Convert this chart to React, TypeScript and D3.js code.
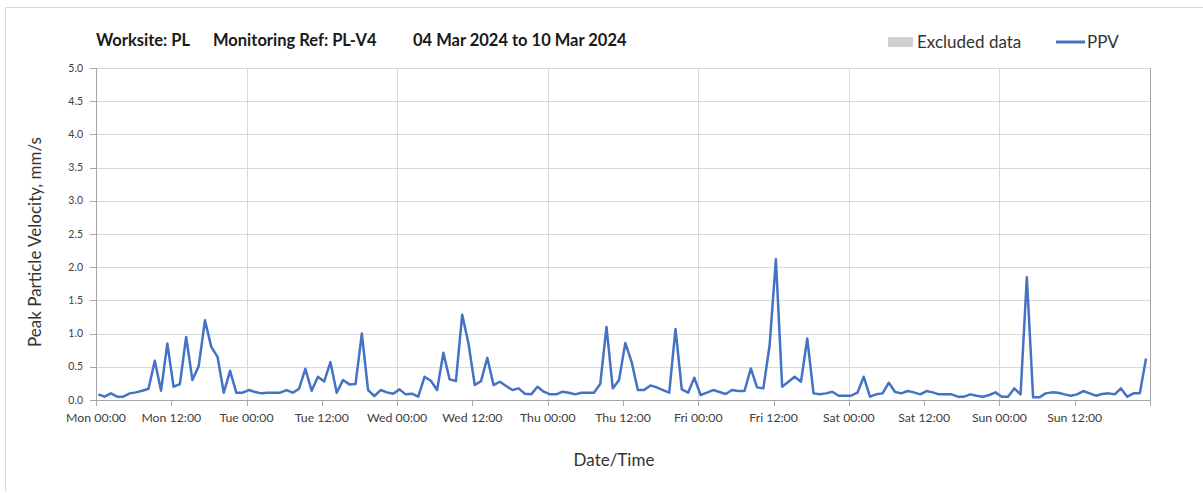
import React from "react";
import * as d3 from "d3";

// Hourly PPV readings (mm/s), Mon 00:00 .. Sun 23:00 (+ small offset)
const ppvValues: number[] = [
  // Mon
  0.085, 0.05, 0.1, 0.05, 0.05, 0.1, 0.115, 0.14, 0.17, 0.59, 0.14, 0.85,
  0.2, 0.24, 0.95, 0.3, 0.51, 1.2, 0.8, 0.65, 0.11, 0.44, 0.11, 0.11,
  // Tue
  0.15, 0.12, 0.1, 0.11, 0.11, 0.11, 0.15, 0.11, 0.17, 0.47, 0.14, 0.35,
  0.28, 0.57, 0.11, 0.3, 0.235, 0.24, 1.0, 0.15, 0.06, 0.15, 0.115, 0.095,
  // Wed
  0.16, 0.085, 0.095, 0.05, 0.35, 0.29, 0.15, 0.71, 0.31, 0.285, 1.285, 0.85,
  0.225, 0.285, 0.635, 0.225, 0.275, 0.21, 0.15, 0.175, 0.095, 0.085, 0.2, 0.125,
  // Thu
  0.085, 0.085, 0.125, 0.11, 0.085, 0.11, 0.11, 0.11, 0.24, 1.1, 0.175, 0.3,
  0.86, 0.575, 0.15, 0.15, 0.22, 0.19, 0.15, 0.11, 1.07, 0.16, 0.11, 0.335,
  // Fri
  0.075, 0.11, 0.15, 0.12, 0.09, 0.15, 0.135, 0.135, 0.475, 0.19, 0.175, 0.825,
  2.12, 0.2, 0.275, 0.35, 0.275, 0.925, 0.1, 0.085, 0.1, 0.125, 0.065, 0.065,
  // Sat
  0.065, 0.11, 0.35, 0.05, 0.085, 0.1, 0.26, 0.12, 0.1, 0.135, 0.115, 0.085,
  0.135, 0.115, 0.085, 0.085, 0.085, 0.05, 0.05, 0.085, 0.065, 0.05, 0.075, 0.115,
  // Sun
  0.05, 0.05, 0.175, 0.085, 1.85, 0.04, 0.04, 0.1, 0.115, 0.11, 0.085, 0.065,
  0.085, 0.135, 0.1, 0.065, 0.09, 0.1, 0.085, 0.175, 0.05, 0.1, 0.1, 0.625,
];
const sampleOffsetHours = 0.37;

const dayNames: string[] = ["Mon", "Tue", "Wed", "Thu", "Fri", "Sat", "Sun"];
const tickHours: number[] = d3.range(0, 168, 12);
const tickLabels: string[] = tickHours.map(
  (h) => `${dayNames[Math.floor(h / 24)]} ${h % 24 === 0 ? "00:00" : "12:00"}`
);
const dayGridHours: number[] = [24, 48, 72, 96, 120, 144, 168];
const yTicks: number[] = [0, 0.5, 1, 1.5, 2, 2.5, 3, 3.5, 4, 4.5, 5];
const titleParts: string[] = ["Worksite: PL", "Monitoring Ref: PL-V4", "04 Mar 2024 to 10 Mar 2024"];

const W = 1203;
const H = 493;
const M = { left: 96, right: 1150, top: 68, bottom: 400 };
const FONT = "Lato, 'Open Sans', 'Noto Sans', sans-serif";
const titleX = [96, 213, 413];

export default function App() {
  const x = d3.scaleLinear().domain([0, 168]).range([M.left, M.right]);
  const y = d3.scaleLinear().domain([0, 5]).range([M.bottom, M.top]);
  const line = d3
    .line<number>()
    .x((_, i) => x(i + sampleOffsetHours))
    .y((d) => y(d));

  return (
    <svg
      width={W}
      height={H}
      style={{ position: "absolute", left: 0, top: 0, background: "#fff" }}
    >
      {/* chart frame */}
      <line x1={5.5} y1={7.5} x2={W} y2={7.5} stroke="#d9d9d9" />
      <line x1={5.5} y1={7.5} x2={5.5} y2={492} stroke="#d9d9d9" />

      {/* title */}
      <text y={46} fontFamily={FONT} fontWeight="bold" fontSize={16.5} fill="#1a1a1a">
        {titleParts.map((t, i) => (
          <tspan key={t} x={titleX[i]}>
            {t}
          </tspan>
        ))}
      </text>

      {/* legend */}
      <rect x={888} y={37} width={25} height={10} fill="#d0d0d0" />
      <text x={917} y={48} fontFamily={FONT} fontSize={17} fill="#333">
        Excluded data
      </text>
      <line x1={1056} y1={42} x2={1085} y2={42} stroke="#4472C4" strokeWidth={3} />
      <text x={1087} y={48} fontFamily={FONT} fontSize={17} fill="#333">
        PPV
      </text>

      {/* horizontal gridlines */}
      {yTicks.slice(1).map((t) => (
        <line
          key={"hg" + t}
          x1={M.left}
          x2={M.right}
          y1={Math.round(y(t)) + 0.5}
          y2={Math.round(y(t)) + 0.5}
          stroke="#d9d9d9"
        />
      ))}
      {/* vertical day gridlines */}
      {dayGridHours.map((h) => (
        <line
          key={"vg" + h}
          x1={Math.round(x(h)) + 0.5}
          x2={Math.round(x(h)) + 0.5}
          y1={M.top}
          y2={M.bottom}
          stroke={h === 168 ? "#a6a6a6" : "#d9d9d9"}
        />
      ))}

      {/* axes */}
      <line x1={M.left + 0.5} x2={M.left + 0.5} y1={M.top} y2={M.bottom} stroke="#a6a6a6" />
      <line x1={M.left} x2={M.right} y1={M.bottom + 0.5} y2={M.bottom + 0.5} stroke="#a6a6a6" />
      {yTicks.map((t) => (
        <g key={"yt" + t}>
          <line
            x1={M.left - 6}
            x2={M.left}
            y1={Math.round(y(t)) + 0.5}
            y2={Math.round(y(t)) + 0.5}
            stroke="#a6a6a6"
          />
          <text
            x={M.left - 13}
            y={y(t) + 3.5}
            textAnchor="end"
            fontFamily={FONT}
            fontSize={10.5}
            fill="#404040"
          >
            {t.toFixed(1)}
          </text>
        </g>
      ))}
      {[...tickHours, 168].map((h) => (
        <line
          key={"xt" + h}
          x1={Math.round(x(h)) + 0.5}
          x2={Math.round(x(h)) + 0.5}
          y1={M.bottom}
          y2={M.bottom + 6}
          stroke="#a6a6a6"
        />
      ))}
      {tickHours.map((h, i) => (
        <text
          key={"xl" + h}
          x={x(h)}
          y={422}
          textAnchor="middle"
          fontFamily={FONT}
          fontSize={12.3}
          fill="#404040"
        >
          {tickLabels[i]}
        </text>
      ))}

      {/* axis titles */}
      <text
        transform={`translate(41,${(M.top + M.bottom) / 2 + 8}) rotate(-90)`}
        textAnchor="middle"
        fontFamily={FONT}
        fontSize={17}
        fill="#333"
      >
        Peak Particle Velocity, mm/s
      </text>
      <text
        x={614}
        y={466}
        textAnchor="middle"
        fontFamily={FONT}
        fontSize={17}
        fill="#333"
      >
        Date/Time
      </text>

      {/* PPV line */}
      <path
        d={line(ppvValues) || ""}
        fill="none"
        stroke="#4472C4"
        strokeWidth={2.5}
        strokeLinejoin="round"
      />
    </svg>
  );
}
